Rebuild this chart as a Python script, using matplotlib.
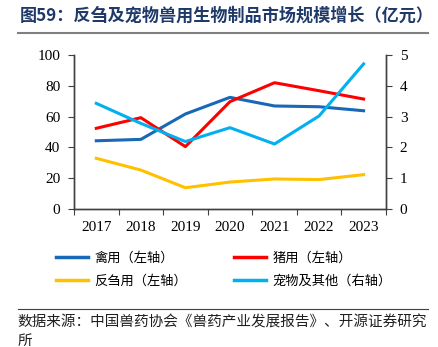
import matplotlib
matplotlib.use("Agg")
import matplotlib.pyplot as plt
from matplotlib.lines import Line2D

plt.rcParams['font.family'] = ['Noto Sans CJK SC', 'DejaVu Sans']

# data
years = ['2017', '2018', '2019', '2020', '2021', '2022', '2023']
poultry = [44.3, 45.2, 61.7, 72.5, 66.9, 66.4, 63.8]     # 禽用, left axis
swine = [52.4, 59.3, 40.5, 69.7, 82.0, 76.8, 71.4]       # 猪用, left axis
ruminant = [32.9, 25.3, 13.8, 17.5, 19.5, 19.1, 22.3]    # 反刍用, left axis
pet = [3.43, 2.78, 2.19, 2.64, 2.11, 3.02, 4.71]         # 宠物及其他, right axis

names = ['禽用（左轴）', '猪用（左轴）', '反刍用（左轴）', '宠物及其他（右轴）']
colors = ['#1868B7', '#FF0000', '#FFC000', '#00B0F0']

fig = plt.figure(figsize=(4.39, 3.47), dpi=100)
ax = fig.add_axes([0.1686, 0.3977, 0.7104, 0.4438])
ax2 = ax.twinx()

x = range(len(years))
ax.plot(x, poultry, color=colors[0], lw=2.2)
ax.plot(x, swine, color=colors[1], lw=2.2)
ax.plot(x, ruminant, color=colors[2], lw=2.2)
ax2.plot(x, pet, color=colors[3], lw=2.2)

ax.set_xlim(-0.5, 6.5)
ax.set_ylim(0, 100)
ax2.set_ylim(0, 5)
ax.set_yticks(range(0, 101, 20))
ax2.set_yticks(range(0, 6))

# category axis: ticks between categories, labels centred
ax.set_xticks([i + 0.5 for i in range(-1, 7)])
ax.set_xticklabels([])
ax.set_xticks(list(x), minor=True)
ax.set_xticklabels(years, minor=True)
ax.tick_params(axis='x', which='minor', length=0, pad=9)
ax.tick_params(axis='x', which='major', length=4, direction='out', color='#404040')

for lab in ax.get_xticklabels(minor=True) + ax.get_yticklabels() + ax2.get_yticklabels():
    lab.set_fontfamily('Liberation Serif')
    lab.set_fontsize(11)

ax.tick_params(axis='y', length=4, color='#404040', pad=6)
ax2.tick_params(axis='y', length=4, color='#404040', pad=6)

for a in (ax, ax2):
    a.spines['top'].set_visible(False)
    for s in ('left', 'right', 'bottom'):
        a.spines[s].set_color('#404040')
        a.spines[s].set_linewidth(1.0)

# legend is filled column by column: order so rows read 禽/猪, 反刍/宠物
order = [0, 2, 1, 3]
handles = [Line2D([0], [0], color=colors[i], lw=2.5) for i in order]
fig.legend(handles, [names[i] for i in order], ncol=2, loc='center',
           bbox_to_anchor=(0.51, 0.222), frameon=False, fontsize=9.5,
           handlelength=2.4, handletextpad=0.5, columnspacing=3.6,
           labelspacing=0.75)

# title and source
fig.text(0.045, 0.955, '图59：反刍及宠物兽用生物制品市场规模增长（亿元）',
         fontsize=12.3, fontweight='bold', color='#1F3A68', va='center', ha='left')
fig.add_artist(Line2D([0.04, 0.975], [0.905, 0.905], color='#808080', lw=1.5,
                      transform=fig.transFigure))
fig.add_artist(Line2D([0.04, 0.975], [0.11, 0.11], color='#404040', lw=0.8,
                      transform=fig.transFigure))
fig.text(0.04, 0.07, '数据来源：中国兽药协会《兽药产业发展报告》、开源证券研究',
         fontsize=10.5, color='#202020', va='center', ha='left')
fig.text(0.04, 0.018, '所', fontsize=10.5, color='#202020', va='center', ha='left')

fig.savefig('out.png', dpi=100)
